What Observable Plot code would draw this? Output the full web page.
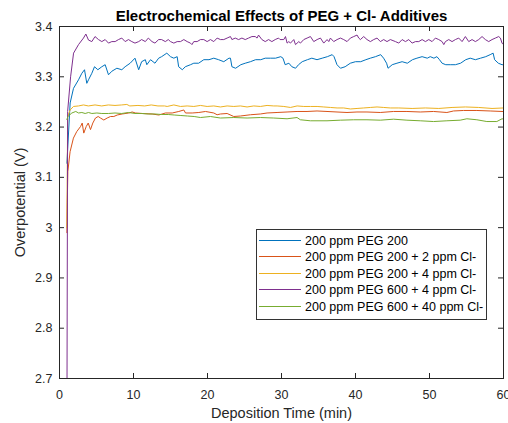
<!DOCTYPE html>
<html>
<head>
<meta charset="utf-8">
<script src="https://cdn.jsdelivr.net/npm/d3@7"></script>
<script src="https://cdn.jsdelivr.net/npm/@observablehq/plot@0.6"></script>
<style>
  html, body { margin: 0; padding: 0; background: #fff; }
  #wrap { position: relative; width: 508px; height: 423px; font-family: "Liberation Sans", Arial, Helvetica, sans-serif; }
  #legend { position: absolute; left: 256px; top: 229px; width: 231px; height: 91px; border: 1px solid #333; background: #fff; box-sizing: border-box; }
  .row { position: absolute; left: 0; height: 17px; display: flex; align-items: center; font-size: 12.5px; color: #000; white-space: nowrap; }
  .sw { display: inline-block; width: 42px; height: 1px; margin-left: 2px; margin-right: 4px; }
</style>
</head>
<body>
<div id="wrap"></div>
<script>
const titleText = "Electrochemical Effects of PEG + Cl- Additives";
const xLabel = "Deposition Time (min)";
const yLabel = "Overpotential (V)";
const xTicks = [0, 10, 20, 30, 40, 50, 60];
const yTicks = [2.7, 2.8, 2.9, 3.0, 3.1, 3.2, 3.3, 3.4];
const seriesNames = [
  "200 ppm PEG 200",
  "200 ppm PEG 200 + 2 ppm Cl-",
  "200 ppm PEG 200 + 4 ppm Cl-",
  "200 ppm PEG 600 + 4 ppm Cl-",
  "200 ppm PEG 600 + 40 ppm Cl-"
];
const seriesColors = ["#0072BD", "#D95319", "#EDB120", "#7E2F8E", "#77AC30"];

// [time (min), overpotential (V)]
const peg200 = [[1.0,3.128],[1.44,3.248],[1.89,3.277],[2.57,3.294],[3.02,3.307],[3.38,3.314],[3.69,3.287],[3.92,3.294],[4.37,3.307],[4.73,3.320],[5.18,3.314],[5.72,3.320],[6.17,3.324],[6.62,3.304],[7.07,3.311],[7.75,3.317],[8.42,3.314],[8.87,3.320],[9.55,3.327],[10.2,3.337],[10.7,3.314],[11.1,3.330],[11.6,3.334],[11.8,3.324],[12.3,3.334],[12.9,3.327],[13.4,3.337],[13.8,3.340],[14.5,3.347],[15.0,3.340],[15.45,3.337],[15.9,3.340],[16.1,3.320],[16.6,3.314],[17.0,3.320],[17.7,3.324],[18.15,3.327],[18.8,3.327],[19.5,3.334],[20.2,3.334],[20.85,3.337],[21.5,3.334],[22.2,3.330],[22.9,3.337],[23.1,3.337],[23.3,3.320],[23.8,3.317],[24.5,3.324],[25.1,3.327],[25.8,3.330],[26.5,3.334],[27.2,3.334],[27.8,3.337],[28.5,3.337],[29.2,3.337],[29.9,3.340],[30.2,3.337],[30.5,3.324],[31.0,3.327],[31.4,3.320],[31.9,3.317],[32.3,3.324],[32.8,3.330],[33.5,3.334],[34.1,3.337],[34.8,3.334],[35.5,3.337],[36.2,3.340],[36.85,3.344],[37.1,3.340],[37.5,3.324],[37.97,3.317],[38.6,3.320],[39.3,3.327],[40.0,3.330],[40.7,3.330],[41.4,3.334],[42.0,3.337],[42.7,3.340],[43.4,3.344],[43.8,3.337],[44.2,3.327],[44.4,3.317],[44.96,3.324],[45.6,3.327],[46.3,3.330],[47.0,3.327],[47.7,3.334],[48.3,3.337],[49.0,3.340],[49.7,3.337],[50.1,3.340],[50.6,3.337],[51.0,3.340],[51.35,3.334],[51.7,3.327],[52.2,3.324],[52.8,3.324],[53.5,3.324],[54.2,3.327],[54.9,3.334],[55.5,3.337],[56.2,3.334],[56.9,3.337],[57.6,3.340],[58.2,3.344],[58.6,3.347],[58.8,3.334],[59.3,3.327],[59.8,3.324],[60.0,3.324]];

const peg200cl2 = [[1.0,2.99],[1.05,3.05],[1.13,3.112],[1.43,3.151],[1.88,3.178],[2.33,3.191],[2.84,3.201],[3.07,3.208],[3.28,3.188],[3.61,3.201],[3.88,3.208],[4.19,3.195],[4.5,3.208],[4.86,3.218],[5.23,3.221],[5.54,3.218],[5.99,3.214],[6.44,3.218],[6.89,3.221],[7.34,3.221],[7.8,3.224],[8.47,3.226],[9.37,3.228],[9.82,3.230],[10.27,3.228],[11.17,3.227],[12.52,3.226],[13.42,3.224],[14.32,3.228],[15.23,3.228],[16.12,3.231],[16.8,3.234],[17.03,3.228],[17.93,3.228],[18.83,3.229],[19.73,3.231],[20.85,3.228],[21.3,3.2245],[21.75,3.226],[22.65,3.227],[23.55,3.221],[24.45,3.222],[25.8,3.2245],[27.15,3.226],[28.05,3.228],[29.4,3.229],[30.75,3.230],[32.1,3.231],[33.45,3.231],[34.8,3.232],[36.15,3.231],[37.5,3.230],[38.85,3.229],[40.2,3.230],[41.55,3.230],[43.35,3.229],[45.15,3.231],[46.95,3.231],[48.75,3.230],[50.55,3.231],[52.35,3.229],[53.25,3.232],[54.6,3.233],[56.4,3.233],[58.2,3.232],[59.8,3.231],[60.0,3.231]];

const peg200cl4 = [[1.0,3.0],[1.1,3.221],[1.44,3.234],[1.89,3.241],[2.57,3.242],[3.24,3.244],[3.9,3.242],[4.8,3.244],[5.7,3.242],[6.6,3.244],[7.5,3.243],[8.4,3.244],[9.1,3.245],[9.5,3.242],[10.6,3.243],[11.5,3.242],[12.4,3.244],[13.3,3.242],[14.2,3.242],[14.55,3.241],[15.45,3.244],[16.35,3.241],[17.25,3.242],[18.15,3.241],[19.05,3.243],[19.95,3.241],[20.85,3.242],[21.75,3.240],[22.65,3.242],[23.55,3.241],[24.45,3.242],[25.35,3.240],[26.25,3.242],[27.15,3.241],[28.05,3.243],[28.95,3.242],[29.41,3.242],[30.31,3.241],[31.21,3.239],[32.11,3.242],[33.01,3.241],[33.91,3.241],[34.81,3.241],[35.71,3.240],[36.61,3.239],[37.51,3.238],[38.41,3.238],[39.31,3.236],[40.21,3.237],[41.11,3.238],[42.01,3.239],[42.91,3.240],[43.81,3.239],[44.71,3.238],[45.85,3.238],[47.65,3.237],[49.45,3.238],[51.25,3.237],[53.05,3.239],[54.85,3.240],[56.65,3.239],[58.45,3.237],[60.0,3.238]];

const peg600cl4 = [[1.0,2.6],[1.1,3.231],[1.5,3.30],[1.9,3.347],[2.57,3.364],[3.24,3.377],[3.56,3.385],[3.92,3.373],[4.37,3.370],[4.8,3.380],[5.27,3.374],[5.72,3.370],[6.17,3.374],[6.62,3.367],[7.07,3.370],[7.52,3.370],[7.97,3.374],[8.42,3.377],[8.87,3.370],[9.32,3.374],[9.77,3.370],[10.2,3.367],[10.7,3.370],[11.1,3.374],[11.6,3.370],[12.0,3.377],[12.5,3.370],[12.9,3.367],[13.4,3.374],[13.8,3.374],[14.3,3.370],[14.7,3.374],[15.0,3.370],[15.45,3.367],[15.9,3.370],[16.35,3.370],[16.8,3.374],[17.25,3.370],[17.7,3.367],[17.9,3.364],[18.15,3.370],[18.6,3.370],[19.05,3.374],[19.5,3.374],[19.95,3.370],[20.4,3.374],[20.85,3.370],[21.3,3.377],[21.75,3.374],[22.2,3.374],[22.65,3.377],[23.1,3.380],[23.3,3.374],[23.75,3.377],[24.2,3.374],[24.65,3.377],[25.1,3.374],[25.55,3.377],[26.0,3.380],[26.45,3.380],[26.7,3.377],[26.9,3.383],[27.35,3.374],[27.8,3.370],[28.25,3.374],[28.7,3.370],[29.15,3.374],[29.6,3.377],[29.8,3.374],[30.31,3.374],[30.54,3.380],[30.76,3.367],[30.99,3.370],[31.21,3.367],[31.66,3.374],[31.89,3.364],[32.34,3.370],[32.56,3.367],[33.01,3.374],[33.46,3.377],[33.91,3.380],[34.36,3.370],[34.81,3.374],[35.26,3.377],[35.71,3.367],[36.16,3.374],[36.39,3.370],[36.61,3.377],[37.06,3.370],[37.51,3.374],[37.96,3.377],[38.41,3.374],[38.86,3.370],[39.31,3.377],[39.76,3.380],[40.21,3.383],[40.44,3.377],[40.66,3.374],[41.11,3.380],[41.56,3.374],[42.01,3.370],[42.46,3.374],[42.91,3.377],[43.36,3.370],[43.81,3.374],[44.26,3.370],[44.71,3.374],[45.4,3.370],[45.85,3.367],[46.3,3.374],[46.75,3.370],[47.2,3.374],[47.65,3.367],[48.1,3.370],[48.55,3.370],[49.0,3.374],[49.45,3.370],[49.9,3.374],[50.35,3.370],[50.8,3.377],[51.25,3.374],[51.7,3.370],[51.93,3.364],[52.15,3.370],[52.6,3.374],[53.05,3.370],[53.5,3.374],[53.95,3.377],[54.4,3.370],[54.85,3.380],[55.3,3.370],[55.75,3.374],[56.2,3.370],[56.65,3.374],[57.1,3.380],[57.55,3.374],[58.0,3.370],[58.45,3.374],[58.9,3.377],[59.35,3.380],[59.58,3.377],[59.8,3.367],[60.0,3.364]];

const peg600cl40 = [[1.0,3.215],[1.13,3.221],[1.67,3.228],[2.2,3.231],[2.57,3.228],[3.02,3.229],[3.47,3.227],[3.92,3.229],[4.37,3.227],[5.05,3.228],[5.72,3.227],[6.6,3.227],[7.5,3.228],[8.4,3.227],[9.3,3.229],[10.2,3.227],[11.1,3.227],[12.0,3.226],[12.9,3.226],[13.8,3.225],[14.7,3.225],[15.5,3.224],[16.4,3.223],[17.3,3.222],[18.2,3.221],[19.05,3.219],[20.4,3.221],[21.75,3.218],[23.55,3.219],[25.35,3.218],[27.15,3.219],[28.95,3.218],[30.75,3.2165],[32.1,3.219],[32.55,3.2145],[33.9,3.2125],[36.15,3.2125],[37.95,3.2137],[39.75,3.2145],[41.55,3.2145],[43.35,3.2137],[45.15,3.2157],[46.95,3.2137],[48.75,3.2125],[50.55,3.211],[52.35,3.2125],[54.15,3.2137],[55.05,3.2165],[56.4,3.2145],[57.75,3.211],[59.1,3.211],[59.8,3.2165],[60.0,3.216]];

const allSeries = [peg200, peg200cl2, peg200cl4, peg600cl4, peg600cl40];
const data = allSeries.flatMap((s, i) => s.map(([t, v]) => ({t, v, name: seriesNames[i]})));

const W = 508, H = 423, mL = 59, mR = 5, mT = 26, mB = 45;
const innerW = W - mL - mR, innerH = H - mT - mB;
const axisColor = "#262626";

const chart = Plot.plot({
  width: W, height: H,
  marginLeft: mL, marginRight: mR, marginTop: mT, marginBottom: mB,
  style: { fontFamily: "'Liberation Sans', Arial, Helvetica, sans-serif", background: "#fff", color: axisColor },
  x: { domain: [0, 60] },
  y: { domain: [2.7, 3.4] },
  color: { domain: seriesNames, range: seriesColors },
  marks: [
    Plot.line(data, { x: "t", y: "v", z: "name", stroke: "name", strokeWidth: 1, clip: true }),
    Plot.frame({ stroke: axisColor, strokeWidth: 1 }),
    Plot.tickX(xTicks, { x: d => d, stroke: axisColor, insetTop: innerH - 5 }),
    Plot.tickX(xTicks, { x: d => d, stroke: axisColor, insetBottom: innerH - 5 }),
    Plot.tickY(yTicks, { y: d => d, stroke: axisColor, insetRight: innerW - 5 }),
    Plot.tickY(yTicks, { y: d => d, stroke: axisColor, insetLeft: innerW - 5 }),
    Plot.axisX(xTicks, { tickSize: 0, tickPadding: 12, fontSize: 12.5, label: null, fill: axisColor }),
    Plot.axisY(yTicks, { tickSize: 0, tickPadding: 7, fontSize: 12.5, label: null, fill: axisColor, tickFormat: d3.format("~g") }),
    Plot.text([xLabel], { text: d => d, frameAnchor: "bottom", dy: 34.7, lineAnchor: "middle", textAnchor: "middle", fontSize: 14.5, fill: axisColor }),
    Plot.text([yLabel], { text: d => d, frameAnchor: "left", dx: -39, rotate: -90, lineAnchor: "middle", textAnchor: "middle", fontSize: 14.5, fill: axisColor }),
    Plot.text([titleText], { text: d => d, frameAnchor: "top", dy: -10, lineAnchor: "middle", textAnchor: "middle", fontSize: 15, fontWeight: "bold", fill: "#000" })
  ]
});

const wrap = document.getElementById("wrap");
wrap.appendChild(chart);

const legend = document.createElement("div");
legend.id = "legend";
seriesNames.forEach((name, i) => {
  const row = document.createElement("div");
  row.className = "row";
  row.style.top = Math.round(1.5 + i * 16.6) + "px";
  const sw = document.createElement("span");
  sw.className = "sw";
  sw.style.background = seriesColors[i];
  const label = document.createElement("span");
  label.textContent = name;
  row.appendChild(sw);
  row.appendChild(label);
  legend.appendChild(row);
});
wrap.appendChild(legend);
</script>
</body>
</html>
